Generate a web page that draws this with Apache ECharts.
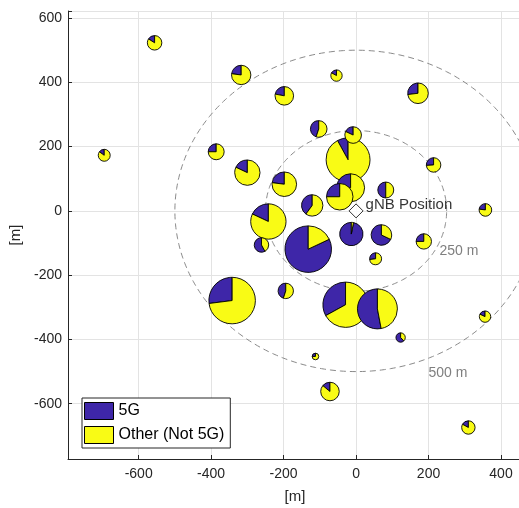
<!DOCTYPE html>
<html>
<head>
<meta charset="utf-8">
<script src="https://cdn.jsdelivr.net/npm/echarts@6/dist/echarts.min.js"></script>
<style>
  html, body { margin: 0; padding: 0; background: #fff; }
  #chart { width: 519px; height: 508px; }
</style>
</head>
<body>
<div id="chart"></div>
<script>
// Serving cells around the gNB: position [m], pie radius [m] and 5G share [%]
const siteX      = [-556, -695, -386, -317, -300, -198,  -54,  171, -103,  -22,   -8,  214, -198,  -15,  -45,   82, -121,  -242, -261, -132,  -13,   70,  187,  357,   54, -342, -194,  -29,   59,  356,  123, -112,  -72,  310];
const siteY      = [ 523,  173,  184,  423,  119,  358,  421,  366,  255,  159,  236,  143,   83,   72,   44,   65,   17,   -33, -106, -119,  -72,  -75,  -95,    3, -149, -279, -249, -292, -305, -329, -394, -453, -562, -674];
const siteRadius = [20.0, 16.5, 22.0, 26.7, 35.0, 25.6, 15.7, 28.4, 22.9, 60.6, 22.9, 20.0, 33.9, 38.6, 36.6, 22.0, 29.5,  48.8, 20.0, 64.2, 32.2, 28.4, 21.2, 17.4, 16.5, 64.2, 21.2, 62.5, 55.1, 15.7, 12.9,  9.1, 25.6, 18.5];
const share5G    = [  16,   15,   25,   23,   18,   22,   17,   27,   45,    8,   18,   26,   23,   24,   25,   50,   40,    18,   58,   82,   97,   68,   25,   23,   27,   27,   45,   33,   53,   18,   62,   25,   14,   17];

const ringRadii  = [250, 500];
const ringLabels = ['250 m', '500 m'];
const seriesNames = ['5G', 'Other (Not 5G)'];

const BLUE = '#3E26A8';
const YELLOW = '#F9FB15';
const INK = '#262626';
const FONT = '"Liberation Sans", Arial, Helvetica, sans-serif';

const pieData = siteX.map((x, i) => [x, siteY[i], siteRadius[i], share5G[i]]);
const ringData = ringRadii.map(r => [0, 0, r]);
const ringLabelData = [[230, -124, ringLabels[0]], [200, -504, ringLabels[1]]];

// Two-slice pie at a map position; slices run counter-clockwise from 12 o'clock
function renderPie(params, api) {
  const c = api.coord([api.value(0), api.value(1)]);
  const r = api.size([api.value(2), 0])[0];
  const f = api.value(3) / 100;
  const top = -Math.PI / 2;
  const split = top - 2 * Math.PI * f;
  const edge = { stroke: '#000', lineWidth: 0.9 };
  return {
    type: 'group',
    children: [
      { type: 'sector',
        shape: { cx: c[0], cy: c[1], r0: 0, r: r, startAngle: split, endAngle: top, clockwise: true },
        style: Object.assign({ fill: BLUE }, edge) },
      { type: 'sector',
        shape: { cx: c[0], cy: c[1], r0: 0, r: r, startAngle: top - 2 * Math.PI, endAngle: split, clockwise: true },
        style: Object.assign({ fill: YELLOW }, edge) }
    ]
  };
}

// Distance ring drawn in map metres (appears elliptical on unequal axes)
function renderRing(params, api) {
  const cx = api.value(0), cy = api.value(1), rad = api.value(2);
  const pts = [];
  for (let k = 0; k <= 360; k += 1) {
    const t = k * Math.PI / 180;
    pts.push(api.coord([cx + rad * Math.cos(t), cy + rad * Math.sin(t)]));
  }
  return {
    type: 'polyline',
    shape: { points: pts },
    style: { stroke: '#8a8a8a', lineWidth: 1, lineDash: [6, 4], fill: null }
  };
}

function renderRingLabel(params, api) {
  const p = api.coord([api.value(0), api.value(1)]);
  return {
    type: 'text',
    x: p[0], y: p[1],
    style: { text: ringLabelData[params.dataIndex][2], fill: '#7f7f7f', font: '14px ' + FONT,
             textAlign: 'left', textVerticalAlign: 'middle' }
  };
}

const chart = echarts.init(document.getElementById('chart'), null, { renderer: 'canvas' });

const tickFmt = v => (Math.abs(v % 200) < 1e-6 ? String(v) : '');

chart.setOption({
  animation: false,
  backgroundColor: '#fff',
  color: [BLUE, YELLOW],
  textStyle: { fontFamily: FONT },
  grid: { left: 68, top: 11, width: 454, bottom: 49, containLabel: false, outerBoundsMode: 'none' },
  legend: {
    orient: 'vertical',
    left: 82, top: 398,
    data: seriesNames.map(n => ({ name: n, icon: 'rect' })),
    itemWidth: 29, itemHeight: 17, itemGap: 6,
    padding: [4, 6, 4, 2],
    backgroundColor: '#fff',
    borderColor: INK, borderWidth: 1, borderRadius: 0,
    itemStyle: { borderColor: '#000', borderWidth: 1 },
    textStyle: { fontSize: 16, color: '#000', fontFamily: FONT }
  },
  xAxis: {
    type: 'value', min: -795, max: 458, minInterval: 200, maxInterval: 200,
    name: '[m]', nameLocation: 'middle', nameGap: 30,
    nameTextStyle: { fontSize: 15, color: INK, fontFamily: FONT },
    axisLine: { show: true, onZero: false, lineStyle: { color: INK, width: 1 } },
    axisTick: { show: true, inside: true, length: 4, lineStyle: { color: INK } },
    axisLabel: { fontSize: 14, color: INK, margin: 8, formatter: tickFmt, fontFamily: FONT },
    splitLine: { show: true, lineStyle: { color: '#e3e3e3', width: 1 } }
  },
  yAxis: {
    type: 'value', min: -772, max: 622, minInterval: 200, maxInterval: 200,
    name: '[m]', nameLocation: 'middle', nameGap: 41,
    nameTextStyle: { fontSize: 15, color: INK, fontFamily: FONT },
    axisLine: { show: true, onZero: false, lineStyle: { color: INK, width: 1 } },
    axisTick: { show: true, inside: true, length: 4, lineStyle: { color: INK } },
    axisLabel: { fontSize: 14, color: INK, margin: 6, formatter: tickFmt, fontFamily: FONT },
    splitLine: { show: true, lineStyle: { color: '#e3e3e3', width: 1 } }
  },
  series: [
    { name: seriesNames[0], type: 'custom', data: [], renderItem: () => null,
      itemStyle: { color: BLUE } },
    { name: seriesNames[1], type: 'custom', data: [], renderItem: () => null,
      itemStyle: { color: YELLOW } },
    { name: 'rings', type: 'custom', coordinateSystem: 'cartesian2d', clip: false,
      data: ringData, encode: { x: 0, y: 1 }, renderItem: renderRing, silent: true, z: 2 },
    { name: 'ringLabels', type: 'custom', coordinateSystem: 'cartesian2d', clip: false,
      data: ringLabelData.map(d => [d[0], d[1]]), encode: { x: 0, y: 1 },
      renderItem: renderRingLabel, silent: true, z: 2 },
    { name: 'cells', type: 'custom', coordinateSystem: 'cartesian2d', clip: false,
      data: pieData, encode: { x: 0, y: 1 }, renderItem: renderPie, z: 3 },
    { name: 'gNB', type: 'scatter', data: [[0, 0]], symbol: 'diamond', symbolSize: 14, z: 4,
      itemStyle: { color: '#fff', borderColor: '#000', borderWidth: 1 },
      label: { show: true, position: 'right', distance: 2, offset: [0, -6],
               formatter: 'gNB Position', color: '#000', fontSize: 15, fontFamily: FONT } }
  ]
});
</script>
</body>
</html>
